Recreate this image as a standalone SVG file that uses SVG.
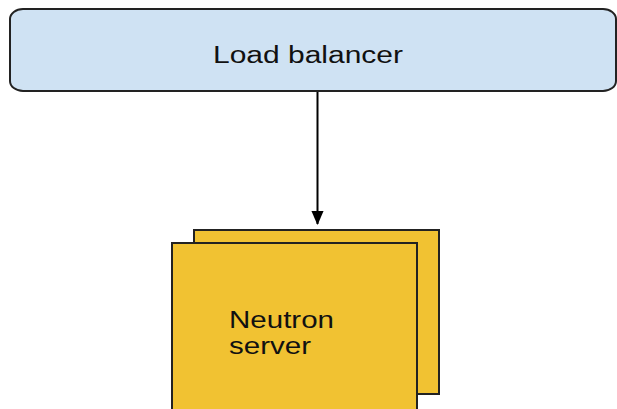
<svg xmlns="http://www.w3.org/2000/svg" width="617" height="409" viewBox="0 0 617 409">
<style>
.lbl{font-family:"Liberation Sans",Arial,sans-serif;font-size:23px;fill:#111}
.box{stroke:#222;stroke-width:2}
.srv{fill:#f1c232}
</style>
<defs>
<marker id="ah" markerWidth="14" markerHeight="16" refX="15" refY="7" orient="auto" markerUnits="userSpaceOnUse" viewBox="0 0 16 14">
<path d="M0,0 L16,7 L0,14 Z" fill="#000"/>
</marker>
</defs>
<g id="connectors">
<line x1="317.5" y1="92" x2="317.5" y2="224" stroke="#000" stroke-width="2" marker-end="url(#ah)"/>
</g>
<g id="load-balancer">
<rect class="box" x="10" y="9" width="606" height="82" rx="13" ry="10" fill="#cfe2f3"/>
<text class="lbl" x="213" y="63" textLength="190" lengthAdjust="spacingAndGlyphs">Load balancer</text>
</g>
<g id="neutron-server">
<rect class="box srv" x="194" y="230" width="245" height="164"/>
<rect class="box srv" x="172" y="243" width="245" height="170"/>
<text class="lbl" x="229" y="328" textLength="105" lengthAdjust="spacingAndGlyphs">Neutron</text>
<text class="lbl" x="229" y="354" textLength="82" lengthAdjust="spacingAndGlyphs">server</text>
</g>
</svg>
